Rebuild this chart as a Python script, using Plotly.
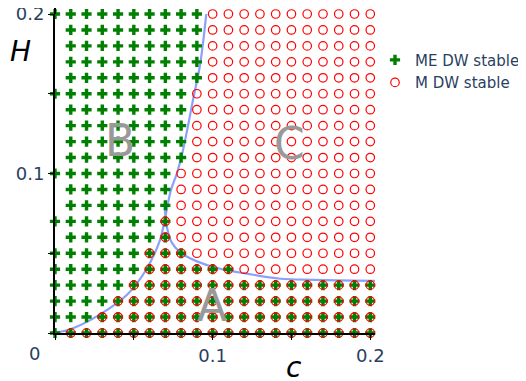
import plotly.graph_objects as go

# grid of c values sampled
c_grid = [0.0, 0.01, 0.02, 0.03, 0.04, 0.05, 0.06, 0.07, 0.08, 0.09, 0.10,
          0.11, 0.12, 0.13, 0.14, 0.15, 0.16, 0.17, 0.18, 0.19, 0.20]
# rows of H values
H_rows = [0.0, 0.01, 0.02, 0.03, 0.04, 0.05, 0.06, 0.07, 0.08, 0.09, 0.10,
          0.11, 0.12, 0.13, 0.14, 0.15, 0.16, 0.17, 0.18, 0.19, 0.20]
# per row: range of c where ME DW is stable
me_c_lo = [0.0, 0.0, 0.0, 0.0, 0.0, 0.0, 0.01, 0.0, 0.01, 0.01, 0.0,
           0.01, 0.01, 0.01, 0.01, 0.0, 0.01, 0.01, 0.01, 0.01, 0.0]
me_c_hi = [0.2, 0.2, 0.2, 0.2, 0.11, 0.08, 0.07, 0.07, 0.07, 0.07, 0.07,
           0.08, 0.08, 0.08, 0.08, 0.08, 0.09, 0.09, 0.09, 0.09, 0.09]
# per row: range of c where M DW is stable
m_c_lo = [0.01, 0.03, 0.04, 0.05, 0.06, 0.06, 0.07, 0.07, 0.08, 0.08, 0.08,
          0.09, 0.09, 0.09, 0.09, 0.09, 0.10, 0.10, 0.10, 0.10, 0.10]
m_c_hi = [0.2] * 21

# boundary curves
curve1_c = [0.0, 0.0114, 0.0286, 0.0457, 0.058, 0.0667, 0.07, 0.0735,
            0.0773, 0.0806, 0.0846, 0.0878, 0.092, 0.0965]
curve1_H = [0.0, 0.003, 0.0117, 0.024, 0.040, 0.0586, 0.073, 0.0895,
            0.1, 0.112, 0.131, 0.1475, 0.168, 0.205]
curve2_c = [0.0698, 0.0713, 0.074, 0.0794, 0.09, 0.1048, 0.1217, 0.143,
            0.164, 0.203]
curve2_H = [0.0765, 0.065, 0.0568, 0.0506, 0.0449, 0.0403, 0.0372, 0.034,
            0.0333, 0.0327]

eps = 1e-9
me_x, me_y, m_x, m_y = [], [], [], []
for i, h in enumerate(H_rows):
    for c in c_grid:
        if me_c_lo[i] - eps <= c <= me_c_hi[i] + eps:
            me_x.append(c); me_y.append(h)
        if m_c_lo[i] - eps <= c <= m_c_hi[i] + eps:
            m_x.append(c); m_y.append(h)

line_col = "#8aa0fa"
fig = go.Figure()
fig.add_trace(go.Scatter(x=curve1_c, y=curve1_H, mode="lines", showlegend=False,
                         line=dict(color=line_col, width=2.2, shape="spline"),
                         cliponaxis=False, hoverinfo="skip"))
fig.add_trace(go.Scatter(x=curve2_c, y=curve2_H, mode="lines", showlegend=False,
                         line=dict(color=line_col, width=2.2, shape="spline"),
                         cliponaxis=False, hoverinfo="skip"))
fig.add_trace(go.Scatter(x=me_x, y=me_y, mode="markers", name="ME DW stable",
                         marker=dict(symbol="cross", size=8.5, color="#008000",
                                     line=dict(width=0)),
                         cliponaxis=False))
fig.add_trace(go.Scatter(x=m_x, y=m_y, mode="markers", name="M DW stable",
                         marker=dict(symbol="circle-open", size=8.5, color="#ff0000",
                                     line=dict(width=1.2)),
                         cliponaxis=False))

for txt, cx, hy in [("B", 0.0412, 0.121), ("C", 0.149, 0.119), ("A", 0.0996, 0.0175)]:
    fig.add_annotation(x=cx, y=hy, text=txt, showarrow=False,
                       xanchor="center", yanchor="middle",
                       font=dict(size=44, color="#999999", family="DejaVu Sans"))

fig.add_annotation(xref="paper", yref="paper", x=-0.1469, y=0.884, text="<i>H</i>",
                   showarrow=False, xanchor="left", yanchor="middle",
                   font=dict(size=28, color="black", family="DejaVu Sans"))
fig.add_annotation(xref="paper", yref="paper", x=0.748, y=-0.1066, text="<i>c</i>",
                   showarrow=False, xanchor="center", yanchor="middle",
                   font=dict(size=28, color="black", family="DejaVu Sans"))
fig.add_annotation(xref="paper", yref="paper", x=-0.0656, y=-0.0627, text="0",
                   showarrow=False, xanchor="center", yanchor="middle",
                   font=dict(size=18, color="#2a3f5f", family="DejaVu Sans"))

# extend the left axis line slightly above the plot top as in the original
fig.add_shape(type="line", xref="paper", yref="paper", x0=0, x1=0, y0=1, y1=1.02,
              line=dict(color="black", width=2))

fig.update_layout(
    width=518, height=373,
    margin=dict(l=47, r=151, t=6, b=48, autoexpand=False),
    plot_bgcolor="white", paper_bgcolor="white",
    font=dict(family="DejaVu Sans", color="#2a3f5f"),
    legend=dict(x=1.0, y=0.907, xanchor="left", yanchor="top",
                font=dict(size=15, color="#2a3f5f"), bgcolor="rgba(0,0,0,0)"),
    xaxis=dict(range=[0, 0.203], showgrid=False, zeroline=False, showline=True,
               linecolor="black", linewidth=2, ticks="outside", ticklen=5,
               tickcolor="black", tickvals=[0, 0.05, 0.1, 0.15, 0.2],
               ticktext=["", "", "0.1", "", "0.2"], tickfont=dict(size=18),
               automargin=False),
    yaxis=dict(range=[0, 0.2], showgrid=False, zeroline=False, showline=True,
               linecolor="black", linewidth=2, ticks="outside", ticklen=5,
               tickcolor="black", tickvals=[0, 0.05, 0.1, 0.15, 0.2],
               ticktext=["", "", "0.1", "", "0.2"], tickfont=dict(size=18),
               automargin=False, ticklabeloverflow="allow"),
)

fig.write_html("out.html")
